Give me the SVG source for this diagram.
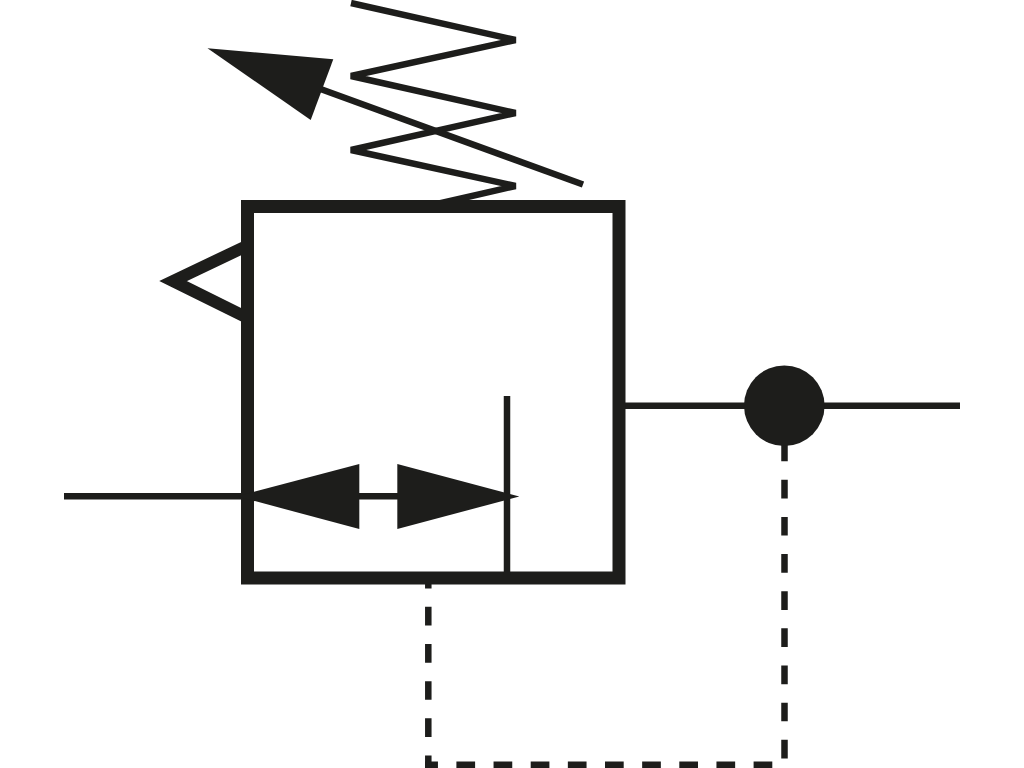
<svg xmlns="http://www.w3.org/2000/svg" width="1024" height="768" viewBox="0 0 1024 768">
  <style>
    .line { fill: none; stroke: #1d1d1b; stroke-width: 6.5; }
    .dash { fill: none; stroke: #1d1d1b; stroke-width: 6.5; stroke-dasharray: 18.7 18.45; }
    .solid { fill: #1d1d1b; stroke: none; }
  </style>
  <rect width="1024" height="768" fill="#ffffff"/>
  <g id="connectors">
    <path class="line" d="M64,496.3H245"/>
    <path class="line" d="M625,405.7H960"/>
    <path class="dash" d="M784.5,442.6V758.7"/>
    <path class="dash" d="M772.3,764.7H425"/>
    <path class="dash" stroke-dashoffset="5.3" d="M428.3,575V768"/>
  </g>
  <g id="spring">
    <polyline class="line" stroke-linejoin="bevel" points="351,3 515.5,40 351,76 515.5,113 351,150 515.5,186 437,204"/>
  </g>
  <g id="adjust-arrow">
    <path class="line" d="M583,184.5L315,87"/>
    <polygon class="solid" points="207.5,48.3 333.3,59.3 310.7,120"/>
  </g>
  <g id="pilot-triangle">
    <polyline fill="none" stroke="#1d1d1b" stroke-width="12" points="250,244.4 173,281 250,319.1"/>
  </g>
  <g id="valve-box">
    <rect x="247.5" y="206.5" width="371.5" height="371.5" fill="none" stroke="#1d1d1b" stroke-width="13"/>
    <path class="line" d="M507,396V575"/>
    <path class="line" d="M355,496.3H402"/>
    <polygon class="solid" points="237,496.3 359.3,464 359.3,529"/>
    <polygon class="solid" points="519.3,496.5 397.3,464 397.3,529"/>
  </g>
  <g id="junction">
    <circle class="solid" cx="784.3" cy="405.7" r="40.3"/>
  </g>
</svg>
